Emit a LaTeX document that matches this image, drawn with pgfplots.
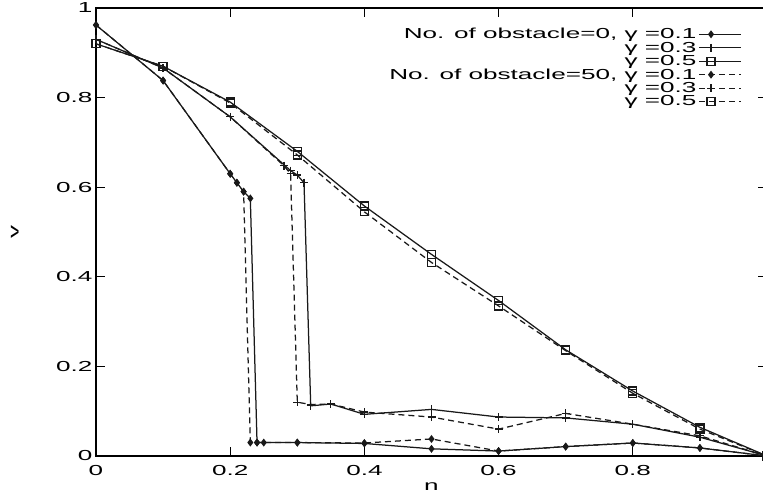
\documentclass[border=0pt]{standalone}
\usepackage{pgfplots}
\pgfplotsset{compat=1.18}
\usepackage{pgfplotstable}
\usepackage{fontspec}
\setmainfont{Liberation Sans}
\usepackage{graphicx}
\newcommand{\sx}[1]{\scalebox{1.8}[1]{#1}}

\pgfplotstableread{
x y
0    0.962
0.1  0.838
0.2  0.630
0.21 0.610
0.22 0.590
0.23 0.575
0.24 0.030
0.25 0.030
0.3  0.030
0.4  0.028
0.5  0.016
0.6  0.011
0.7  0.021
0.8  0.029
0.9  0.018
1.0  0.0
}\obsAa
\pgfplotstableread{
x y
0    0.930
0.1  0.866
0.2  0.757
0.29 0.637
0.3  0.627
0.31 0.610
0.32 0.112
0.35 0.116
0.4  0.093
0.5  0.104
0.6  0.087
0.7  0.085
0.8  0.071
0.9  0.042
1.0  0.0
}\obsAb
\pgfplotstableread{
x y
0    0.920
0.1  0.870
0.2  0.790
0.3  0.680
0.4  0.558
0.5  0.450
0.6  0.347
0.7  0.237
0.8  0.145
0.9  0.064
1.0  0.0
}\obsAc
\pgfplotstableread{
x y
0    0.962
0.1  0.838
0.2  0.630
0.21 0.610
0.22 0.590
0.23 0.030
0.24 0.030
0.3  0.030
0.4  0.029
0.5  0.038
0.6  0.011
0.7  0.021
0.8  0.029
0.9  0.018
1.0  0.0
}\obsBa
\pgfplotstableread{
x y
0    0.930
0.1  0.866
0.2  0.757
0.28 0.648
0.29 0.630
0.3  0.120
0.32 0.115
0.35 0.116
0.4  0.098
0.5  0.087
0.6  0.060
0.7  0.095
0.8  0.071
0.9  0.045
1.0  0.0
}\obsBb
\pgfplotstableread{
x y
0    0.920
0.1  0.870
0.2  0.788
0.3  0.672
0.4  0.545
0.5  0.432
0.6  0.335
0.7  0.235
0.8  0.140
0.9  0.060
1.0  0.0
}\obsBc

\begin{document}
\begin{tikzpicture}
\begin{axis}[
  at={(0,0)}, anchor=south west,
  scale only axis, width=671pt, height=448pt,
  xmin=0, xmax=1, ymin=0, ymax=1,
  xtick={0,0.2,0.4,0.6,0.8,1},
  xticklabels={\sx{0},\sx{0.2},\sx{0.4},\sx{0.6},\sx{0.8},},
  ytick={0,0.2,0.4,0.6,0.8,1},
  yticklabels={\sx{0},\sx{0.2},\sx{0.4},\sx{0.6},\sx{0.8},\sx{1}},
  tick align=inside, major tick length=9pt,
  tick style={line width=0.9pt, black},
  axis line style={line width=1.2pt},
  ticklabel style={font=\fontsize{14.5}{14.5}\selectfont},
  xticklabel style={yshift=-6pt},
  label style={font=\fontsize{14.5}{14.5}\selectfont},
  xlabel={\sx{n}}, ylabel={\sx{v}},
  xlabel style={at={(axis description cs:0.5,-0.068)}, anchor=center},
  ylabel style={at={(axis description cs:-0.121,0.5)}, anchor=center},
  every axis plot/.append style={line width=1.25pt, black!90},
  legend plot pos=right,
  legend image code/.code={\draw[mark repeat=2,mark phase=2,#1] plot coordinates {(0pt,0pt) (12pt,0pt) (42pt,0pt)};},
  legend style={at={(0.967,0.964)}, anchor=north east, draw=none, fill=none,
    font=\fontsize{14.5}{15}\selectfont, cells={anchor=east}, row sep=-2.3pt},
]
\addplot[mark=diamond*, mark size=3pt, mark options={solid}] table {\obsAa};
\addlegendentry{\sx{No. of obstacle=0, γ =0.1}}
\addplot[mark=+, mark size=4pt, mark options={solid}] table {\obsAb};
\addlegendentry{\sx{γ =0.3}}
\addplot[mark=square, mark size=4pt, mark options={solid}] table {\obsAc};
\addlegendentry{\sx{γ =0.5}}
\addplot[dash pattern=on 6pt off 4pt, mark=diamond*, mark size=3pt, mark options={solid}] table {\obsBa};
\addlegendentry{\sx{No. of obstacle=50, γ =0.1}}
\addplot[dash pattern=on 6pt off 4pt, mark=+, mark size=4pt, mark options={solid}] table {\obsBb};
\addlegendentry{\sx{γ =0.3}}
\addplot[dash pattern=on 6pt off 4pt, mark=square, mark size=4pt, mark options={solid}] table {\obsBc};
\addlegendentry{\sx{γ =0.5}}
\end{axis}
\pgfresetboundingbox
\path[use as bounding box] (-96pt,-36pt) rectangle (667pt,456pt);
\end{tikzpicture}
\end{document}
